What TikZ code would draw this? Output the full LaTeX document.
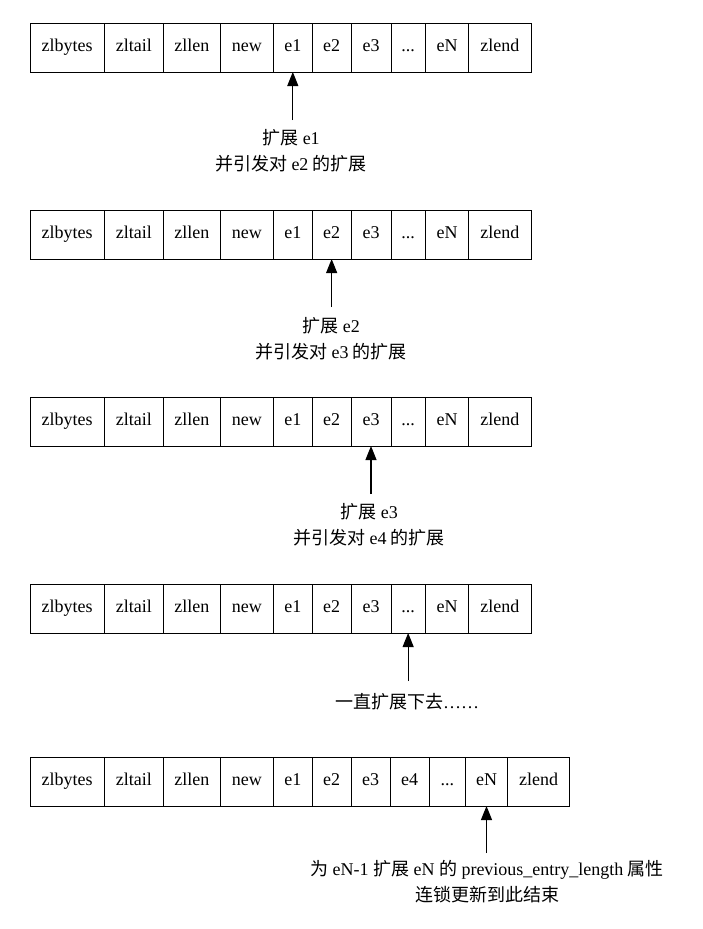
\documentclass[tikz,border=0pt]{standalone}
\usepackage{fontspec}
\setmainfont{Liberation Serif}
\newfontfamily\cjk{Noto Sans CJK SC}
\usetikzlibrary{arrows.meta}
\newcommand\tdots{...}
\begin{document}
\begin{tikzpicture}[x=1pt,y=-1pt,
  cell/.style={draw, line width=1pt, inner sep=0pt, outer sep=0pt, minimum height=49pt, text height=12.5pt, text depth=4pt, font=\fontsize{18}{22}\selectfont},
  arr/.style={-{Triangle[width=11pt,length=14pt]}, line width=1.1pt},
  lbl/.style={align=center, inner sep=0pt, font=\fontsize{18}{26}\selectfont}]
\useasboundingbox (0,0) rectangle (703,929);
\fill[white] (0,0) rectangle (703,929);
% rows 1-4
\foreach \rw/\ty in {1/23,2/210,3/397,4/584}{
  \foreach [count=\i] \xa/\xb/\lab in {30/104.3/zlbytes, 104.3/163.3/zltail, 163.3/220.3/zllen, 220.3/273.3/new, 273.3/312.3/e1, 312.3/351/e2, 351/391/e3, 391/425.3/\tdots, 425.3/468.7/eN, 468.7/531/zlend}
    \node[cell, minimum width={(\xb-\xa)*1pt}] (r\rw-\i) at ({(\xa+\xb)/2},{\ty+24.5}) {\lab};
}
% row 5
\foreach [count=\i] \xa/\xb/\lab in {30/104.3/zlbytes, 104.3/163.3/zltail, 163.3/220.3/zllen, 220.3/273.3/new, 273.3/312.3/e1, 312.3/351/e2, 351/390/e3, 390/429/e4, 429/465.5/\tdots, 465.5/507.5/eN, 507.5/569.5/zlend}
  \node[cell, minimum width={(\xb-\xa)*1pt}] (r5-\i) at ({(\xa+\xb)/2},{781.5}) {\lab};

% arrows
\coordinate (t1) at (292.8,120);
\coordinate (t2) at (331.65,307);
\coordinate (t3) at (371,494);
\coordinate (t4) at (408.15,681);
\coordinate (t5) at (486.5,853);
\draw[arr] (t1) -- (r1-5.south);
\draw[arr] (t2) -- (r2-6.south);
\draw[arr] (t3) -- (r3-7.south);
\draw[arr] (t4) -- (r4-8.south);
\draw[arr] (t5) -- (r5-10.south);

% labels
\node[lbl] (l1) at (291,150.5) {{\cjk 扩展} e1\\{\cjk 并引发对} e2 {\cjk 的扩展}};
\node[lbl] (l2) at (331,338.5) {{\cjk 扩展} e2\\{\cjk 并引发对} e3 {\cjk 的扩展}};
\node[lbl] (l3) at (369,525) {{\cjk 扩展} e3\\{\cjk 并引发对} e4 {\cjk 的扩展}};
\node[lbl] (l4) at (407,702) {{\cjk 一直扩展下去}……};
\node[lbl] (l5) at (487,881.5) {{\cjk 为} eN-1 {\cjk 扩展} eN {\cjk 的} previous\_entry\_length {\cjk 属性}\\{\cjk 连锁更新到此结束}};
\end{tikzpicture}
\end{document}
